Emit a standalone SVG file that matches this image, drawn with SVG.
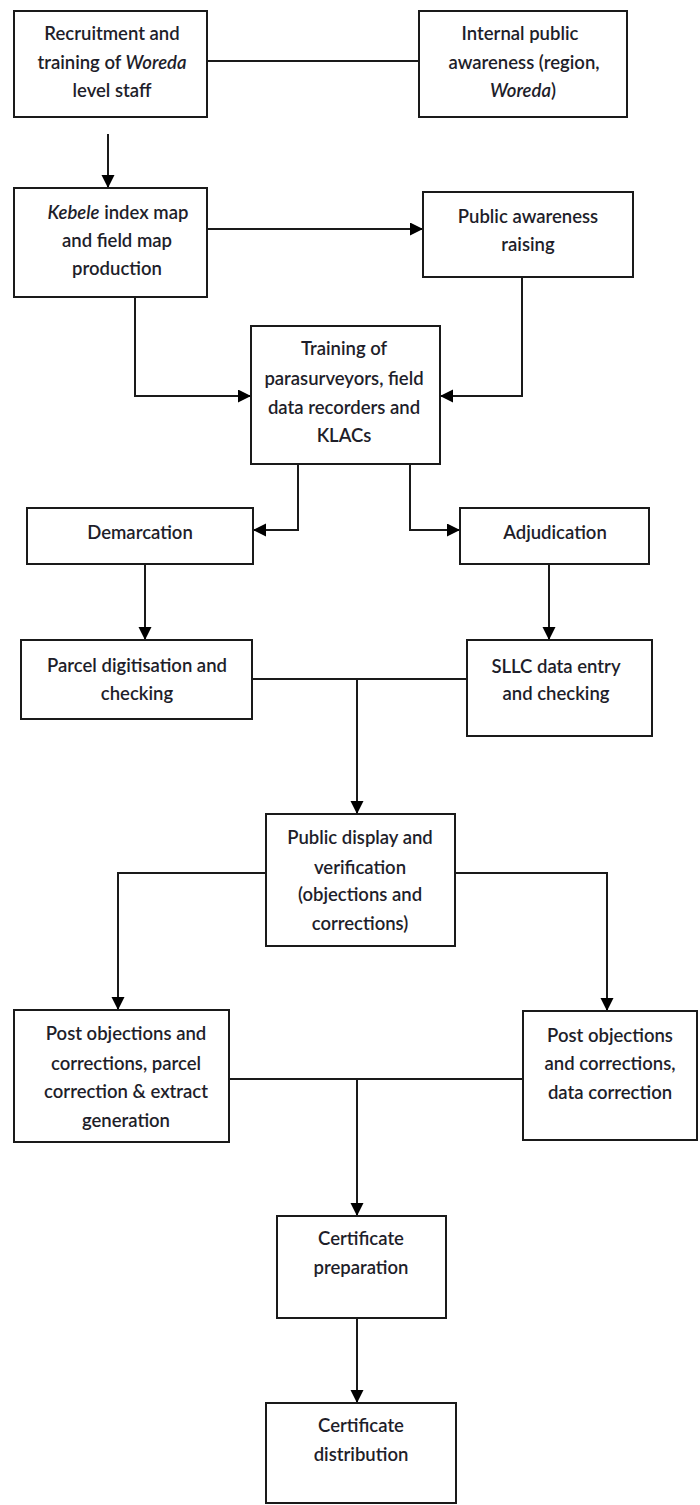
<svg xmlns="http://www.w3.org/2000/svg" width="700" height="1505" viewBox="0 0 700 1505">
<style>
.box{fill:#fff;stroke:#1a1a1a;stroke-width:2}
.t{font-family:Lato,"Open Sans","Liberation Sans",sans-serif;font-weight:600;font-size:18.5px;fill:#1e1e2a;text-anchor:middle;dominant-baseline:central}
.c{fill:none;stroke:#1a1a1a;stroke-width:2}
</style>
<defs>
<marker id="ah" markerUnits="userSpaceOnUse" markerWidth="14" markerHeight="14" refX="13" refY="6.5" orient="auto">
<path d="M0,0 L13,6.5 L0,13 z" fill="#000"/>
</marker>
</defs>
<rect width="700" height="1505" fill="#fff"/>
<g id="connectors">
<path class="c" d="M207,61 H419"/>
<path class="c" d="M108,134 V188" marker-end="url(#ah)"/>
<path class="c" d="M207,229 H423" marker-end="url(#ah)"/>
<path class="c" d="M135,297 V396 H251" marker-end="url(#ah)"/>
<path class="c" d="M605,276 H522 V396 H440" marker-end="url(#ah)"/>
<path class="c" d="M342,463 H298 V530 H253" marker-end="url(#ah)"/>
<path class="c" d="M358,463 H410 V530 H460" marker-end="url(#ah)"/>
<path class="c" d="M145,564 V640" marker-end="url(#ah)"/>
<path class="c" d="M549,564 V640" marker-end="url(#ah)"/>
<path class="c" d="M252,679 H470"/>
<path class="c" d="M357,679 V814" marker-end="url(#ah)"/>
<path class="c" d="M268,873 H118 V1010" marker-end="url(#ah)"/>
<path class="c" d="M455,873 H607 V1011" marker-end="url(#ah)"/>
<path class="c" d="M229,1079 H523"/>
<path class="c" d="M357,1079 V1216" marker-end="url(#ah)"/>
<path class="c" d="M357,1318 V1403" marker-end="url(#ah)"/>
</g>
<g id="n1">
<rect class="box" x="14" y="11" width="193" height="106"/>
<text class="t" x="112" y="33">Recruitment and</text>
<text class="t" x="112" y="62">training of <tspan font-style="italic">Woreda</tspan></text>
<text class="t" x="112" y="90">level staff</text>
</g>
<g id="n2">
<rect class="box" x="419" y="11" width="208" height="106"/>
<text class="t" x="520" y="33">Internal public</text>
<text class="t" x="524" y="62">awareness (region,</text>
<text class="t" x="523" y="90"><tspan font-style="italic">Woreda</tspan>)</text>
</g>
<g id="n3">
<rect class="box" x="14" y="188" width="193" height="109"/>
<text class="t" x="118" y="212"><tspan font-style="italic">Kebele</tspan> index map</text>
<text class="t" x="117" y="240">and field map</text>
<text class="t" x="117" y="268">production</text>
</g>
<g id="n4">
<rect class="box" x="423" y="192" width="210" height="85"/>
<text class="t" x="528" y="216">Public awareness</text>
<text class="t" x="528" y="244">raising</text>
</g>
<g id="n5">
<rect class="box" x="251" y="326" width="189" height="138"/>
<text class="t" x="344" y="348">Training of</text>
<text class="t" x="344" y="378">parasurveyors, field</text>
<text class="t" x="344" y="407">data recorders and</text>
<text class="t" x="344" y="435">KLACs</text>
</g>
<g id="n6">
<rect class="box" x="27" y="508" width="226" height="56"/>
<text class="t" x="140" y="532">Demarcation</text>
</g>
<g id="n7">
<rect class="box" x="460" y="508" width="189" height="56"/>
<text class="t" x="555" y="532">Adjudication</text>
</g>
<g id="n8">
<rect class="box" x="21" y="640" width="231" height="79"/>
<text class="t" x="137" y="665">Parcel digitisation and</text>
<text class="t" x="137" y="693">checking</text>
</g>
<g id="n9">
<rect class="box" x="467" y="640" width="185" height="96"/>
<text class="t" x="556" y="666">SLLC data entry</text>
<text class="t" x="556" y="693">and checking</text>
</g>
<g id="n10">
<rect class="box" x="266" y="814" width="189" height="132"/>
<text class="t" x="360" y="837">Public display and</text>
<text class="t" x="360" y="867">verification</text>
<text class="t" x="360" y="894">(objections and</text>
<text class="t" x="360" y="923">corrections)</text>
</g>
<g id="n11">
<rect class="box" x="14" y="1010" width="215" height="132"/>
<text class="t" x="126" y="1033">Post objections and</text>
<text class="t" x="126" y="1063">corrections, parcel</text>
<text class="t" x="126" y="1091">correction &amp; extract</text>
<text class="t" x="126" y="1120">generation</text>
</g>
<g id="n12">
<rect class="box" x="523" y="1011" width="174" height="129"/>
<text class="t" x="610" y="1035">Post objections</text>
<text class="t" x="610" y="1063">and corrections,</text>
<text class="t" x="610" y="1092">data correction</text>
</g>
<g id="n13">
<rect class="box" x="277" y="1216" width="169" height="102"/>
<text class="t" x="361" y="1238">Certificate</text>
<text class="t" x="361" y="1267">preparation</text>
</g>
<g id="n14">
<rect class="box" x="266" y="1403" width="190" height="100"/>
<text class="t" x="361" y="1425">Certificate</text>
<text class="t" x="361" y="1454">distribution</text>
</g>
</svg>
